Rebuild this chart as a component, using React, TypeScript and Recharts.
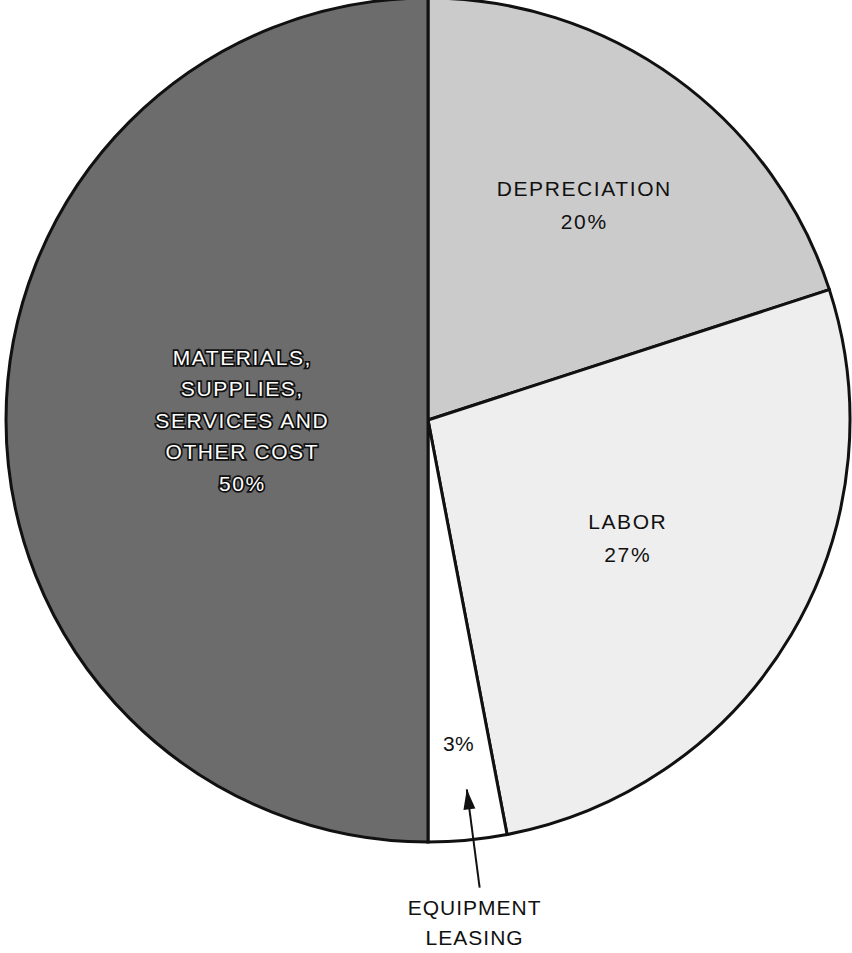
import { PieChart, Pie, Cell } from "recharts";

// cost shares, clockwise from 12 o'clock
const categories = ["Depreciation", "Labor", "Equipment leasing", "Materials, supplies, services and other cost"];
const shares = [20, 27, 3, 50];
const labelLines = [
  ["DEPRECIATION"],
  ["LABOR"],
  ["EQUIPMENT", "LEASING"],
  ["MATERIALS,", "SUPPLIES,", "SERVICES AND", "OTHER COST"],
];

const FILLS = ["#cbcbcb", "#eeeeee", "#ffffff", "#6c6c6c"];
// where each inside label sits, as a fraction of the radius
const LABEL_R = [0.63, 0.55, 0.77, 0.44];
const FONT = "'Liberation Sans', Arial, Helvetica, sans-serif";

const data = categories.map((name, i) => ({ name, value: shares[i] }));

const RAD = Math.PI / 180;

function SliceLabel(props: any) {
  const { cx, cy, midAngle, outerRadius, index, value } = props;
  const r = outerRadius * LABEL_R[index];
  const x = cx + r * Math.cos(-midAngle * RAD);
  const y = cy + r * Math.sin(-midAngle * RAD);
  const dark = index === 3;

  const textStyle = {
    fontFamily: FONT,
    fontSize: 21,
    letterSpacing: 1.6,
    fill: dark ? "#ffffff" : "#111111",
    stroke: dark ? "#111111" : "none",
    strokeWidth: dark ? 3.5 : 0,
    paintOrder: "stroke" as const,
  };

  if (index === 2) {
    // small slice: percentage inside, name below the pie with an arrow
    const tip = outerRadius * 0.88;
    const tail = outerRadius * 1.115;
    const a = -(midAngle + 0.6) * RAD;
    const tx = cx + tip * Math.cos(a);
    const ty = cy + tip * Math.sin(a);
    const bx = cx + tail * Math.cos(-(midAngle + 0.9) * RAD);
    const by = cy + tail * Math.sin(-(midAngle + 0.9) * RAD);
    const ang = Math.atan2(ty - by, tx - bx);
    const hl = 20;
    const hw = 6;
    const p1x = tx - hl * Math.cos(ang) + hw * Math.sin(ang);
    const p1y = ty - hl * Math.sin(ang) - hw * Math.cos(ang);
    const p2x = tx - hl * Math.cos(ang) - hw * Math.sin(ang);
    const p2y = ty - hl * Math.sin(ang) + hw * Math.cos(ang);
    return (
      <g>
        <text x={x} y={y} textAnchor="middle" dominantBaseline="central" style={{ ...textStyle, letterSpacing: 0.5 }}>
          {value}%
        </text>
        <line x1={bx} y1={by} x2={tx} y2={ty} stroke="#111" strokeWidth={2} />
        <polygon points={`${tx},${ty} ${p1x},${p1y} ${p2x},${p2y}`} fill="#111" />
        {labelLines[index].map((t, k) => (
          <text
            key={k}
            x={bx - 5}
            y={by + 20 + k * 30}
            textAnchor="middle"
            dominantBaseline="central"
            style={{ fontFamily: FONT, fontSize: 21, letterSpacing: 1, fill: "#111" }}
          >
            {t}
          </text>
        ))}
      </g>
    );
  }

  const lines = [...labelLines[index], `${value}%`];
  const step = index === 3 ? 31.5 : 33;
  const top = y - ((lines.length - 1) * step) / 2;
  return (
    <g>
      {lines.map((t, k) => (
        <text key={k} x={x} y={top + k * step} textAnchor="middle" dominantBaseline="central" style={textStyle}>
          {t}
        </text>
      ))}
    </g>
  );
}

export default function App() {
  return (
    <div style={{ position: "absolute", left: 0, top: 0, width: 852, height: 953, background: "#fff" }}>
      <PieChart width={852} height={953} margin={{ top: 0, right: 0, bottom: 0, left: 0 }}>
        <Pie
          data={data}
          dataKey="value"
          nameKey="name"
          cx={428}
          cy={420}
          outerRadius={422}
          startAngle={90}
          endAngle={-270}
          stroke="#111"
          strokeWidth={3}
          label={SliceLabel}
          labelLine={false}
          isAnimationActive={false}
        >
          {data.map((d, i) => (
            <Cell key={d.name} fill={FILLS[i]} />
          ))}
        </Pie>
      </PieChart>
    </div>
  );
}
